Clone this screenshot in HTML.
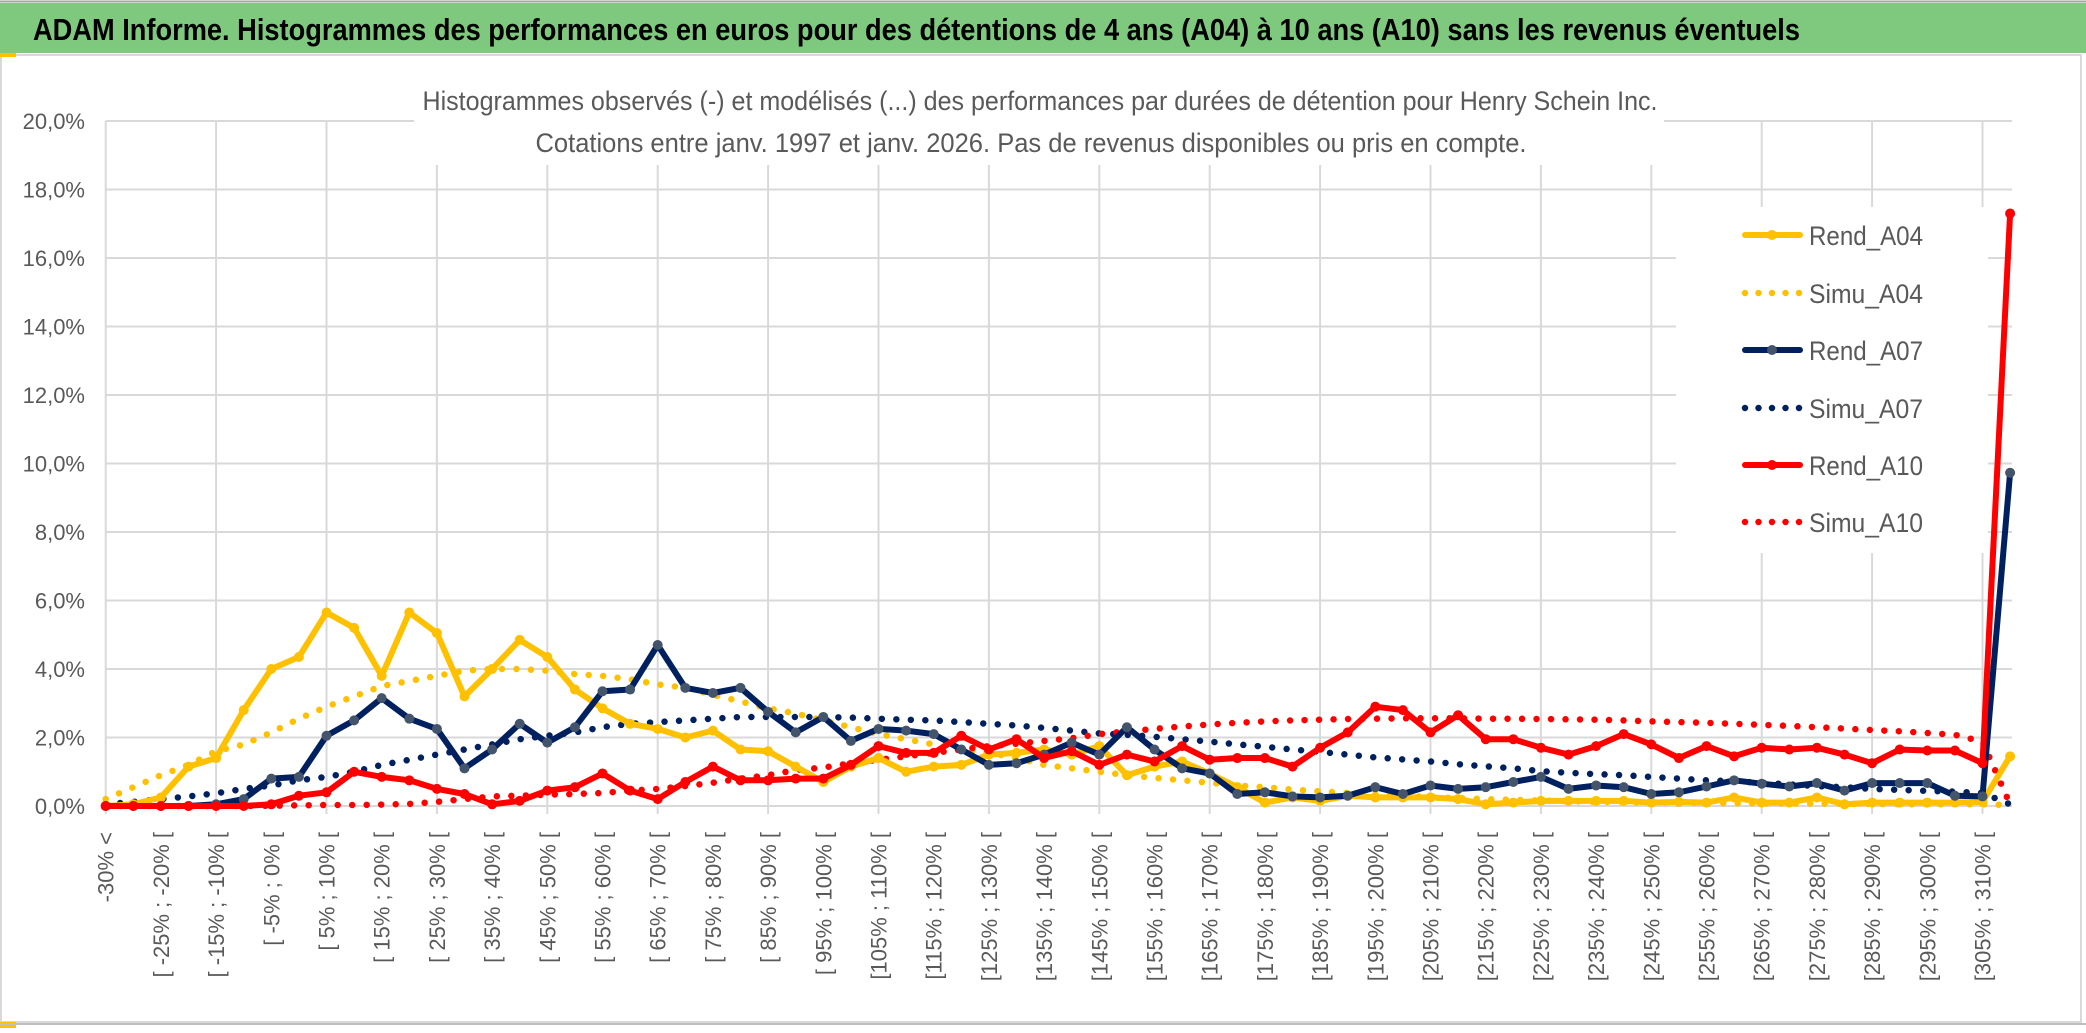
<!DOCTYPE html>
<html><head><meta charset="utf-8"><style>
html,body{margin:0;padding:0;background:#fff;}
svg{display:block;}
</style></head><body>
<svg id="chart" width="2086" height="1033" viewBox="0 0 2086 1033" xmlns="http://www.w3.org/2000/svg" font-family="Liberation Sans, sans-serif">
<rect x="0" y="0" width="2086" height="1033" fill="#fff"/>
<rect x="0" y="3" width="2086" height="50" fill="#7fc97f"/>
<line x1="0" y1="1.5" x2="2086" y2="1.5" stroke="#a6a6a6" stroke-width="2"/>
<text x="33" y="40" font-size="31" font-weight="bold" fill="#000" textLength="1767" lengthAdjust="spacingAndGlyphs">ADAM Informe. Histogrammes des performances en euros pour des détentions de 4 ans (A04) à 10 ans (A10) sans les revenus éventuels</text>
<rect x="1" y="55" width="2080" height="967" fill="#fff" stroke="#d9d9d9" stroke-width="2"/>
<rect x="0" y="53" width="16" height="4" fill="#ffc000"/>
<rect x="0" y="1022" width="16" height="6" fill="#ffc000"/>
<line x1="0" y1="1024" x2="2086" y2="1024" stroke="#bfbfbf" stroke-width="2"/>
<g id="grid"></g>
<rect x="414" y="66" width="1250" height="99" fill="#fff"/>
<text x="1040" y="110" font-size="27" fill="#595959" text-anchor="middle" textLength="1235" lengthAdjust="spacingAndGlyphs">Histogrammes observés (-) et modélisés (...) des performances par durées de détention pour Henry Schein Inc.</text>
<text x="1031" y="152" font-size="27" fill="#595959" text-anchor="middle" textLength="991" lengthAdjust="spacingAndGlyphs">Cotations entre janv. 1997 et janv. 2026. Pas de revenus disponibles ou pris en compte.</text>
<g id="yaxis"></g>
<g id="xaxis"></g>
<rect x="1676" y="207" width="312" height="346" fill="#fff"/>
<g id="series"></g>
<g id="legend"></g>
</svg>
<script>
const rendA04 = [0,0.05,0.25,1.15,1.4,2.8,4.0,4.35,5.65,5.2,3.8,5.65,5.05,3.2,4.0,4.85,4.35,3.4,2.85,2.4,2.25,2.0,2.2,1.65,1.6,1.15,0.7,1.15,1.4,1.0,1.15,1.2,1.5,1.55,1.65,1.5,1.75,0.9,1.15,1.3,0.95,0.55,0.1,0.25,0.15,0.3,0.25,0.25,0.25,0.2,0.05,0.1,0.15,0.15,0.15,0.15,0.1,0.12,0.1,0.25,0.1,0.1,0.25,0.05,0.1,0.1,0.1,0.1,0.12,1.45];
const simuA04 = [0.2,0.55,0.9,1.2,1.6,1.8,2.15,2.55,2.9,3.2,3.5,3.65,3.8,3.95,4.0,4.0,3.95,3.85,3.8,3.7,3.55,3.45,3.25,3.05,2.85,2.7,2.5,2.3,2.1,1.95,1.8,1.65,1.55,1.4,1.2,1.1,1.0,0.9,0.82,0.75,0.68,0.6,0.55,0.48,0.43,0.38,0.33,0.3,0.26,0.23,0.2,0.18,0.16,0.14,0.12,0.11,0.1,0.1,0.09,0.08,0.08,0.07,0.07,0.06,0.06,0.05,0.05,0.05,0.05,0.03];
const rendA07 = [0,0,0,0,0.05,0.2,0.8,0.85,2.05,2.5,3.15,2.55,2.25,1.1,1.65,2.4,1.85,2.3,3.35,3.4,4.7,3.45,3.3,3.45,2.75,2.15,2.6,1.9,2.25,2.2,2.1,1.65,1.2,1.25,1.5,1.85,1.5,2.3,1.65,1.1,0.95,0.35,0.4,0.28,0.25,0.3,0.55,0.35,0.6,0.5,0.55,0.7,0.85,0.5,0.6,0.55,0.35,0.4,0.57,0.75,0.65,0.57,0.67,0.45,0.67,0.67,0.67,0.3,0.28,9.73];
const simuA07 = [0.05,0.12,0.2,0.28,0.37,0.5,0.6,0.75,0.85,1.0,1.2,1.35,1.5,1.65,1.8,1.95,2.05,2.15,2.3,2.4,2.45,2.5,2.55,2.6,2.6,2.6,2.6,2.58,2.55,2.52,2.5,2.45,2.4,2.35,2.28,2.2,2.12,2.08,2.02,1.95,1.88,1.8,1.73,1.65,1.58,1.5,1.42,1.36,1.3,1.22,1.16,1.1,1.02,0.97,0.93,0.9,0.85,0.8,0.75,0.72,0.68,0.63,0.58,0.55,0.5,0.47,0.44,0.42,0.38,0.05];
const rendA10 = [0,0,0,0,0,0,0.05,0.3,0.4,1.0,0.85,0.75,0.5,0.35,0.05,0.15,0.45,0.55,0.95,0.45,0.2,0.7,1.15,0.75,0.75,0.8,0.8,1.2,1.75,1.55,1.55,2.05,1.65,1.95,1.4,1.6,1.2,1.5,1.3,1.75,1.35,1.4,1.4,1.15,1.7,2.15,2.9,2.8,2.15,2.65,1.95,1.95,1.7,1.5,1.75,2.1,1.8,1.4,1.75,1.45,1.7,1.65,1.7,1.5,1.25,1.65,1.62,1.62,1.25,17.3];
const simuA10 = [0,0,0,0,0,0,0.01,0.02,0.03,0.03,0.04,0.06,0.12,0.2,0.28,0.3,0.33,0.35,0.38,0.45,0.5,0.58,0.68,0.8,0.9,1.05,1.12,1.25,1.35,1.45,1.55,1.65,1.75,1.82,1.9,1.98,2.1,2.18,2.25,2.32,2.38,2.43,2.47,2.5,2.52,2.54,2.55,2.56,2.56,2.56,2.55,2.55,2.54,2.53,2.52,2.5,2.47,2.45,2.43,2.4,2.37,2.34,2.3,2.26,2.22,2.18,2.13,2.08,1.88,0.05];
const yTicks = [0,2,4,6,8,10,12,14,16,18,20];
const yTickLabels = ["0,0%","2,0%","4,0%","6,0%","8,0%","10,0%","12,0%","14,0%","16,0%","18,0%","20,0%"];
const categoryLabels = (function(){const a=["-30% <"];for(let k=1;k<70;k++){const lo=-30+5*(k-1),hi=lo+5;let s=(lo>=100?"[":"[ ")+lo+"% ; "+hi+"% [";a.push(s);}return a;})();

const NS="http://www.w3.org/2000/svg";
const X0=105.7, DX=27.6, Y0=806, PY=34.25, XR=2012;
function xs(i){return X0+DX*i;}
function ys(v){return Y0-PY*v;}
function mk(tag,attrs,parent){const e=document.createElementNS(NS,tag);for(const k in attrs)e.setAttribute(k,attrs[k]);parent.appendChild(e);return e;}
const grid=document.getElementById('grid');
for(let t=0;t<yTicks.length;t++){
  const l=mk('line',{x1:X0,x2:XR,y1:ys(yTicks[t]),y2:ys(yTicks[t]),stroke:'#d9d9d9','stroke-width':2},grid);
  
  
}
for(let i=0;i<70;i+=4){
  const l=mk('line',{x1:xs(i),x2:xs(i),y1:ys(20),y2:ys(0)+8,stroke:'#d9d9d9','stroke-width':2},grid);
  
  
}
const yax=document.getElementById('yaxis');
for(let t=0;t<yTicks.length;t++){
  const tx=mk('text',{x:85,y:ys(yTicks[t])+8,'font-size':22,fill:'#595959','text-anchor':'end'},yax);
  tx.textContent=yTickLabels[t];
  
  
}
const xax=document.getElementById('xaxis');
for(let i=0;i<categoryLabels.length;i+=2){
  const x=xs(i)+8, y=832;
  const tx=mk('text',{x:x,y:y,'font-size':22,fill:'#595959','text-anchor':'end',transform:'rotate(-90 '+x+' '+y+')'},xax);
  tx.textContent=categoryLabels[i];
  
  
}
const sg=document.getElementById('series');
function pts(arr){return arr.map((v,i)=>xs(i).toFixed(1)+','+ys(v).toFixed(1)).join(' ');}
function dotted(arr,color,name){
  const p=mk('polyline',{points:pts(arr),fill:'none',stroke:color,'stroke-width':6.5,'stroke-linecap':'round','stroke-dasharray':'0 14.5'},sg);
  
  
}
function solid(arr,color,mcol,name){
  const p=mk('polyline',{points:pts(arr),fill:'none',stroke:color,'stroke-width':6,'stroke-linejoin':'round'},sg);
  
  
  arr.forEach((v,i)=>{
    const c=mk('circle',{cx:xs(i),cy:ys(v),r:5,fill:mcol},sg);
    
    
  });
}
dotted(simuA04,'#ffc000','simu-a04-line');
dotted(simuA07,'#002060','simu-a07-line');
dotted(simuA10,'#ff0000','simu-a10-line');
solid(rendA04,'#ffc000','#ffc000','rend-a04-line');
solid(rendA07,'#002060','#44546a','rend-a07-line');
solid(rendA10,'#ff0000','#ff0000','rend-a10-line');

const lg=document.getElementById('legend');
const entries=[["Rend_A04","#ffc000","#ffc000",false],["Simu_A04","#ffc000",null,true],["Rend_A07","#002060","#44546a",false],["Simu_A07","#002060",null,true],["Rend_A10","#ff0000","#ff0000",false],["Simu_A10","#ff0000",null,true]];
const ly=[235,293,350,408,465,522];
entries.forEach((e,k)=>{
  const g=mk('g',{},lg);
  
  
  if(e[3]){
    mk('line',{x1:1745,x2:1800,y1:ly[k],y2:ly[k],stroke:e[1],'stroke-width':6.5,'stroke-linecap':'round','stroke-dasharray':'0 13.5'},g);
  }else{
    mk('line',{x1:1745,x2:1800,y1:ly[k],y2:ly[k],stroke:e[1],'stroke-width':6,'stroke-linecap':'round'},g);
    mk('circle',{cx:1772,cy:ly[k],r:5,fill:e[2]},g);
  }
  const t=mk('text',{x:1809,y:ly[k]+10,'font-size':27,fill:'#595959',textLength:114,lengthAdjust:'spacingAndGlyphs'},g);
  t.textContent=e[0];
});
</script>
</body></html>
